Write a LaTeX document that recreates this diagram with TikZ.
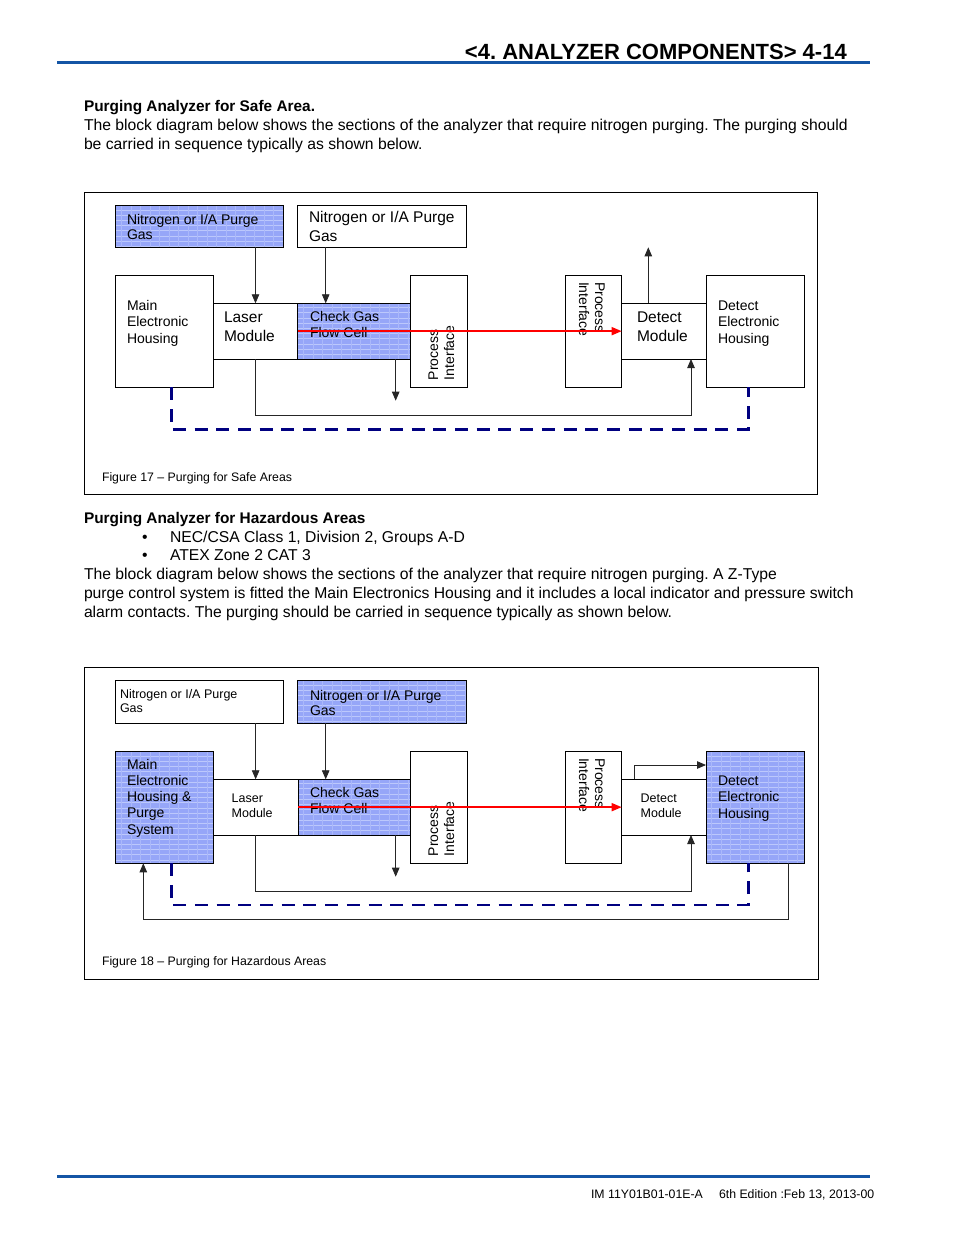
\documentclass[tikz,border=0pt]{standalone}
\usepackage{fontspec}
\setmainfont{Liberation Sans}
\usetikzlibrary{arrows.meta,calc}
\definecolor{hblue}{RGB}{20,85,165}
\definecolor{bfill}{RGB}{150,166,248}
\definecolor{bline}{RGB}{188,200,252}
\definecolor{bline2}{RGB}{170,184,250}
\definecolor{navy}{RGB}{0,0,128}
\definecolor{pured}{RGB}{255,0,0}
\frenchspacing
\begin{document}
\begin{tikzpicture}[x=1pt,y=-1pt,
  box/.style={draw=black, line width=0.9pt, fill=white, inner sep=0pt, outer sep=0pt, anchor=north west},
  bluebox/.style={box, fill=bfill, path picture={
     \foreach \k in {1,...,24}{\draw[bline, line width=0.6pt] ([yshift=-\k*5.2pt+1pt]path picture bounding box.north west) -- ([yshift=-\k*5.2pt+1pt]path picture bounding box.north east);}
     \foreach \k in {1,...,20}{\draw[bline2, line width=0.3pt] ([xshift=\k*9.5pt-4pt]path picture bounding box.north west) -- ([xshift=\k*9.5pt-4pt]path picture bounding box.south west);}
  }},
  txt/.style={anchor=base west, inner sep=0pt, outer sep=0pt},
  f12/.style={font=\fontsize{12.3}{14}\selectfont},
  f125/.style={font=\fontsize{12.5}{14}\selectfont},
  f14/.style={font=\fontsize{14}{16}\selectfont},
  f155/.style={font=\fontsize{15.5}{18}\selectfont},
  f15/.style={font=\fontsize{15.7}{19}\selectfont},
  f15b/.style={font=\fontsize{15.4}{19}\selectfont\bfseries},
  arr/.style={draw=black!85, line width=0.8pt, -{Triangle[width=7.5pt,length=9pt]}},
  redarr/.style={draw=pured, line width=1.6pt, -{Triangle[width=8pt,length=10pt,fill=pured]}},
  dsh/.style={draw=navy, line width=2.8pt, dash pattern=on 13pt off 8.7pt},
  frame/.style={draw=black, line width=0.9pt}
]
\useasboundingbox (0,0) rectangle (954,1235);
\fill[white] (0,0) rectangle (954,1235);

% header and footer
\draw[hblue, line width=3pt] (57,62) -- (870,62);
\node[anchor=base east, inner sep=0pt, font=\fontsize{22}{26}\selectfont\bfseries] (hdr) at (847,59) {<4. ANALYZER COMPONENTS> 4-14};
\draw[hblue, line width=3pt] (57,1176) -- (870,1176);
\node[txt, f12] (ft1) at (591,1198) {IM 11Y01B01-01E-A};
\node[txt, f12] (ft2) at (719,1198) {6th Edition :Feb 13, 2013-00};

% body text 1
\node[txt, f15b] (h1) at (84,111) {Purging Analyzer for Safe Area.};
\node[txt, f15] (p1) at (84,130.5) {The block diagram below shows the sections of the analyzer that require nitrogen purging. The purging should};
\node[txt, f15] (p2) at (84,149.5) {be carried in sequence typically as shown below.};

% ---------------- Figure 17 ----------------
\draw[frame] (84,192.7) rectangle (817.7,494);
\node[bluebox, minimum width=167.6pt, minimum height=41.6pt] (n1) at (115.7,205.7) {};
\node[box, minimum width=169.4pt, minimum height=41.6pt] (n2) at (297.3,205.7) {};
\node[box, minimum width=97.6pt, minimum height=111.6pt] (meh) at (115.7,275.7) {};
\node[box, minimum width=84.4pt, minimum height=55.7pt] (lm) at (213.3,303.3) {};
\node[bluebox, minimum width=113pt, minimum height=55.7pt] (cg) at (297.7,303.3) {};
\node[box, minimum width=56.6pt, minimum height=111.6pt] (pil) at (410.7,275.7) {};
\node[box, minimum width=56pt, minimum height=111.6pt] (pir) at (565.7,275.7) {};
\node[box, minimum width=84.3pt, minimum height=55.7pt] (dm) at (621.7,303.3) {};
\node[box, minimum width=98.3pt, minimum height=111.6pt] (deh) at (706,275.7) {};

\node[txt, f14] (t1a) at (127,224) {Nitrogen or I/A Purge};
\node[txt, f14] (t1b) at (127,239) {Gas};
\node[txt, f155] (t2a) at (309,222) {Nitrogen or I/A Purge};
\node[txt, f155] (t2b) at (309,241) {Gas};
\node[txt, f14] (t3a) at (127,310) {Main};
\node[txt, f14] (t3b) at (127,326) {Electronic};
\node[txt, f14] (t3c) at (127,343) {Housing};
\node[txt, f155] (t4a) at (224,322.7) {Laser};
\node[txt, f155] (t4b) at (224,341.7) {Module};
\node[txt, f14] (t5a) at (310,321.7) {Check Gas};
\node[txt, f14] (t5b) at (310,337) {Flow Cell};
\node[txt, f14, rotate=90] (t6a) at (438,380) {Process};
\node[txt, f14, rotate=90] (t6b) at (454,380) {Interface};
\node[txt, f14, rotate=-90] (t7a) at (595,282) {Process};
\node[txt, f14, rotate=-90] (t7b) at (579,282) {Interface};
\node[txt, f155] (t8a) at (637,322.7) {Detect};
\node[txt, f155] (t8b) at (637,341.7) {Module};
\node[txt, f14] (t9a) at (718,310) {Detect};
\node[txt, f14] (t9b) at (718,326) {Electronic};
\node[txt, f14] (t9c) at (718,343) {Housing};
\node[txt, f12] (cap1) at (102,481) {Figure 17 – Purging for Safe Areas};

\coordinate (cgin) at ([xshift=28pt]cg.north west);
\coordinate (cgd) at ([xshift=-15pt]cg.south east);
\coordinate (dmin) at ([xshift=-15pt]dm.south east);
\coordinate (dmup) at ([xshift=26.6pt]dm.north west);
\draw[arr] (n1.south -| lm.north) -- (lm.north);
\draw[arr] (n2.south -| cgin) -- (cgin);
\draw[arr] (cgd) -- (cgd |- 0,400.7);
\draw[arr] (lm.south) -- (lm.south |- 0,415) -| (dmin);
\draw[arr] (dmup) -- (dmup |- 0,247.3);
\draw[redarr] (cg.west) -- (dm.west);
\draw[dsh] ([xshift=7pt]meh.south) -- ++(0,42) -| ([xshift=-7pt]deh.south);

% body text 2
\node[txt, f15b] (h2) at (84,523.3) {Purging Analyzer for Hazardous Areas};
\node[txt, f15] (b1) at (142,542.3) {•};
\node[txt, f15] (b1t) at (170,542.3) {NEC/CSA Class 1, Division 2, Groups A-D};
\node[txt, f15] (b2) at (142,560) {•};
\node[txt, f15] (b2t) at (170,560) {ATEX Zone 2 CAT 3};
\node[txt, f15] (q1) at (84,579) {The block diagram below shows the sections of the analyzer that require nitrogen purging. A Z-Type};
\node[txt, f15] (q2) at (84,598) {purge control system is fitted the Main Electronics Housing and it includes a local indicator and pressure switch};
\node[txt, f15] (q3) at (84,617) {alarm contacts. The purging should be carried in sequence typically as shown below.};

% ---------------- Figure 18 ----------------
\draw[frame] (84,667.7) rectangle (818,979);
\node[box, minimum width=167.6pt, minimum height=42.6pt] (m1) at (115.7,680.7) {};
\node[bluebox, minimum width=169pt, minimum height=42.6pt] (m2) at (297.7,680.7) {};
\node[bluebox, minimum width=97.6pt, minimum height=111.6pt] (mmeh) at (115.7,751.7) {};
\node[box, minimum width=84.7pt, minimum height=55.7pt] (mlm) at (213.3,779.3) {};
\node[bluebox, minimum width=112.7pt, minimum height=55.7pt] (mcg) at (298,779.3) {};
\node[box, minimum width=56.6pt, minimum height=111.6pt] (mpil) at (410.7,751.7) {};
\node[box, minimum width=56pt, minimum height=111.6pt] (mpir) at (565.7,751.7) {};
\node[box, minimum width=84.3pt, minimum height=55.7pt] (mdm) at (621.7,779.3) {};
\node[bluebox, minimum width=98.3pt, minimum height=111.6pt] (mdeh) at (706,751.7) {};

\node[txt, f125] (s1a) at (120,698.3) {Nitrogen or I/A Purge};
\node[txt, f125] (s1b) at (120,712.3) {Gas};
\node[txt, f14] (s2a) at (310,700) {Nitrogen or I/A Purge};
\node[txt, f14] (s2b) at (310,715.7) {Gas};
\node[txt, f14] (s3a) at (127,769.3) {Main};
\node[txt, f14] (s3b) at (127,785.7) {Electronic};
\node[txt, f14] (s3c) at (127,801.7) {Housing \&};
\node[txt, f14] (s3d) at (127,817.7) {Purge};
\node[txt, f14] (s3e) at (127,834) {System};
\node[txt, f125] (s4a) at (231.7,802.3) {Laser};
\node[txt, f125] (s4b) at (231.7,817.7) {Module};
\node[txt, f14] (s5a) at (310,797.3) {Check Gas};
\node[txt, f14] (s5b) at (310,813.3) {Flow Cell};
\node[txt, f14, rotate=90] (s6a) at (438,856) {Process};
\node[txt, f14, rotate=90] (s6b) at (454,856) {Interface};
\node[txt, f14, rotate=-90] (s7a) at (595,758) {Process};
\node[txt, f14, rotate=-90] (s7b) at (579,758) {Interface};
\node[txt, f125] (s8a) at (640.7,802.3) {Detect};
\node[txt, f125] (s8b) at (640.7,817.7) {Module};
\node[txt, f14] (s9a) at (718,785.7) {Detect};
\node[txt, f14] (s9b) at (718,801.7) {Electronic};
\node[txt, f14] (s9c) at (718,818) {Housing};
\node[txt, f12] (cap2) at (102,965) {Figure 18 – Purging for Hazardous Areas};

\coordinate (mcgin) at ([xshift=27.7pt]mcg.north west);
\coordinate (mcgd) at ([xshift=-15pt]mcg.south east);
\coordinate (mdmin) at ([xshift=-15pt]mdm.south east);
\coordinate (mdmup) at ([xshift=12.6pt]mdm.north west);
\coordinate (mdehout) at ([xshift=-16pt]mdeh.south east);
\coordinate (mmehin) at ([xshift=27.6pt]mmeh.south west);
\draw[arr] (m1.south -| mlm.north) -- (mlm.north);
\draw[arr] (m2.south -| mcgin) -- (mcgin);
\draw[arr] (mcgd) -- (mcgd |- 0,876.7);
\draw[arr] (mlm.south) -- (mlm.south |- 0,891.7) -| (mdmin);
\draw[arr] (mdmup) |- (mdeh.west |- 0,765);
\draw[redarr] (mcg.west) -- (mdm.west);
\draw[dsh] ([xshift=7pt]mmeh.south) -- ++(0,41.7) -| ([xshift=-7pt]mdeh.south);
\draw[arr] (mdehout) -- ++(0,55.7) -| (mmehin);
\end{tikzpicture}
\end{document}
